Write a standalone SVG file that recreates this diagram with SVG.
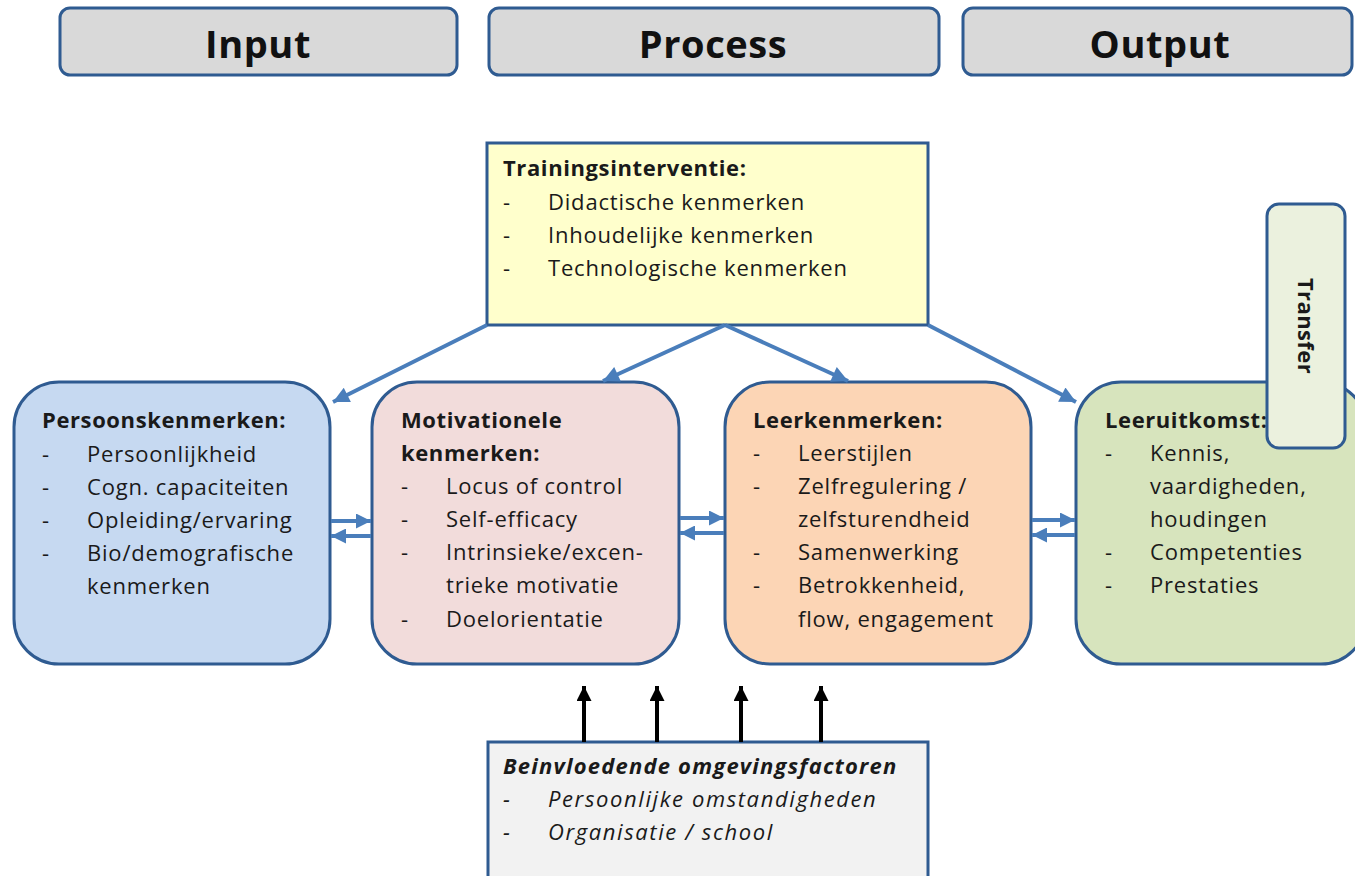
<svg xmlns="http://www.w3.org/2000/svg" width="1355" height="876" viewBox="0 0 1355 876">
<defs>
<style>
.hdr{fill:#d9d9d9;stroke:#2f5b91;stroke-width:3}
.box{stroke:#2f5b91;stroke-width:3}
.t{font-family:"Open Sans","Liberation Sans",sans-serif;font-size:22px;letter-spacing:0.8px;fill:#1a1a1a}
.b{font-weight:bold;letter-spacing:0.6px}
.h{font-family:"Open Sans","Liberation Sans",sans-serif;font-size:38px;font-weight:bold;fill:#111;text-anchor:middle;letter-spacing:0.6px}
.i{font-style:italic;letter-spacing:1.6px}
.bi{font-weight:bold;font-style:italic;letter-spacing:1.2px}
.blue{stroke:#4a7ebb;stroke-width:4;fill:none}
.blk{stroke:#000;stroke-width:4;fill:none}
</style>
<marker id="ab" viewBox="0 0 10 10" refX="10" refY="5" markerUnits="userSpaceOnUse" markerWidth="18" markerHeight="16" orient="auto"><path d="M0,0 L10,5 L0,10 z" fill="#4a7ebb"/></marker>
<marker id="as" viewBox="0 0 10 10" refX="10" refY="5" markerUnits="userSpaceOnUse" markerWidth="15" markerHeight="15" orient="auto"><path d="M0,0 L10,5 L0,10 z" fill="#4a7ebb"/></marker>
<marker id="ak" viewBox="0 0 10 10" refX="10" refY="5" markerUnits="userSpaceOnUse" markerWidth="16" markerHeight="15" orient="auto"><path d="M0,0 L10,5 L0,10 z" fill="#000"/></marker>
</defs>
<rect width="1355" height="876" fill="#fff"/>

<g id="input"><rect class="hdr" x="60" y="8" width="397" height="67" rx="10"/><text class="h" x="258" y="58">Input</text></g>
<g id="process"><rect class="hdr" x="489" y="8" width="450" height="67" rx="10"/><text class="h" x="713" y="58">Process</text></g>
<g id="output"><rect class="hdr" x="963" y="8" width="389" height="67" rx="10"/><text class="h" x="1160" y="58">Output</text></g>

<g id="training">
<rect class="box" x="487" y="143" width="441" height="182" fill="#ffffcc"/>
<text class="t b" x="503" y="176">Trainingsinterventie:</text>
<text class="t" x="503" y="210">-</text><text class="t" x="548" y="210">Didactische kenmerken</text>
<text class="t" x="503" y="243">-</text><text class="t" x="548" y="243">Inhoudelijke kenmerken</text>
<text class="t" x="503" y="276">-</text><text class="t" x="548" y="276">Technologische kenmerken</text>
</g>

<g id="persoons">
<rect class="box" x="14" y="382" width="316" height="282" rx="45" fill="#c6d9f1"/>
<text class="t b" x="42" y="428">Persoonskenmerken:</text>
<text class="t" x="42" y="462">-</text><text class="t" x="87" y="462">Persoonlijkheid</text>
<text class="t" x="42" y="495">-</text><text class="t" x="87" y="495">Cogn. capaciteiten</text>
<text class="t" x="42" y="528">-</text><text class="t" x="87" y="528">Opleiding/ervaring</text>
<text class="t" x="42" y="561">-</text><text class="t" x="87" y="561">Bio/demografische</text>
<text class="t" x="87" y="594">kenmerken</text>
</g>

<g id="motivationele">
<rect class="box" x="372" y="382" width="307" height="282" rx="45" fill="#f2dcdb"/>
<text class="t b" x="401" y="428">Motivationele</text>
<text class="t b" x="401" y="461">kenmerken:</text>
<text class="t" x="401" y="494">-</text><text class="t" x="446" y="494">Locus of control</text>
<text class="t" x="401" y="527">-</text><text class="t" x="446" y="527">Self-efficacy</text>
<text class="t" x="401" y="560">-</text><text class="t" x="446" y="560">Intrinsieke/excen-</text>
<text class="t" x="446" y="593">trieke motivatie</text>
<text class="t" x="401" y="627">-</text><text class="t" x="446" y="627">Doelorientatie</text>
</g>

<g id="leer">
<rect class="box" x="725" y="382" width="306" height="282" rx="45" fill="#fcd5b5"/>
<text class="t b" x="753" y="428">Leerkenmerken:</text>
<text class="t" x="753" y="461">-</text><text class="t" x="798" y="461">Leerstijlen</text>
<text class="t" x="753" y="494">-</text><text class="t" x="798" y="494">Zelfregulering /</text>
<text class="t" x="798" y="527">zelfsturendheid</text>
<text class="t" x="753" y="560">-</text><text class="t" x="798" y="560">Samenwerking</text>
<text class="t" x="753" y="593">-</text><text class="t" x="798" y="593">Betrokkenheid,</text>
<text class="t" x="798" y="627">flow, engagement</text>
</g>

<g id="leeruitkomst">
<rect class="box" x="1076" y="382" width="290" height="282" rx="45" fill="#d7e4bd"/>
<text class="t b" x="1105" y="428">Leeruitkomst:</text>
<text class="t" x="1105" y="461">-</text><text class="t" x="1150" y="461">Kennis,</text>
<text class="t" x="1150" y="494">vaardigheden,</text>
<text class="t" x="1150" y="527">houdingen</text>
<text class="t" x="1105" y="560">-</text><text class="t" x="1150" y="560">Competenties</text>
<text class="t" x="1105" y="593">-</text><text class="t" x="1150" y="593">Prestaties</text>
</g>

<g id="transfer">
<rect class="box" x="1267" y="204" width="78" height="244" rx="12" fill="#ebf1de"/>
<text class="t b" x="0" y="0" font-size="20" text-anchor="middle" style="letter-spacing:0.4px" transform="translate(1298 326) rotate(90)">Transfer</text>
</g>

<g id="omgeving">
<rect class="box" x="488" y="742" width="440" height="145" fill="#f2f2f2"/>
<text class="t bi" x="503" y="774">Beinvloedende omgevingsfactoren</text>
<text class="t i" x="503" y="807">-</text><text class="t i" x="548" y="807">Persoonlijke omstandigheden</text>
<text class="t i" x="503" y="840">-</text><text class="t i" x="548" y="840">Organisatie / school</text>
</g>

<g id="connectors">
<line class="blue" x1="487" y1="325" x2="333" y2="402" marker-end="url(#ab)"/>
<line class="blue" x1="725" y1="325" x2="603" y2="381" marker-end="url(#ab)"/>
<line class="blue" x1="725" y1="325" x2="848" y2="381" marker-end="url(#ab)"/>
<line class="blue" x1="928" y1="325" x2="1076" y2="402" marker-end="url(#ab)"/>

<line class="blue" x1="331" y1="521" x2="371" y2="521" marker-end="url(#as)"/>
<line class="blue" x1="371" y1="536" x2="331" y2="536" marker-end="url(#as)"/>
<line class="blue" x1="680" y1="518" x2="724" y2="518" marker-end="url(#as)"/>
<line class="blue" x1="724" y1="533" x2="680" y2="533" marker-end="url(#as)"/>
<line class="blue" x1="1032" y1="520" x2="1075" y2="520" marker-end="url(#as)"/>
<line class="blue" x1="1075" y1="535" x2="1032" y2="535" marker-end="url(#as)"/>

<line class="blk" x1="584" y1="742" x2="584" y2="686" marker-end="url(#ak)"/>
<line class="blk" x1="657" y1="742" x2="657" y2="686" marker-end="url(#ak)"/>
<line class="blk" x1="741" y1="742" x2="741" y2="686" marker-end="url(#ak)"/>
<line class="blk" x1="821" y1="742" x2="821" y2="686" marker-end="url(#ak)"/>
</g>
</svg>
